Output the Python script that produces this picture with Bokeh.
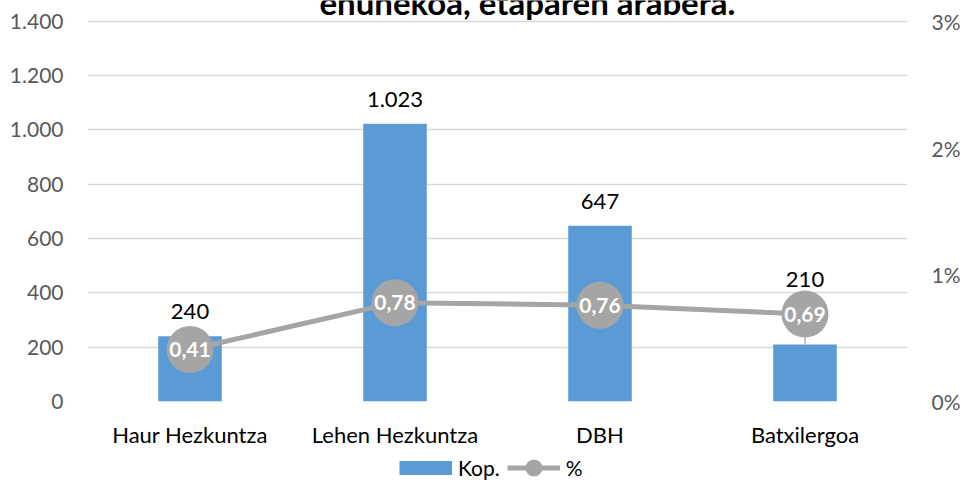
from bokeh.plotting import figure
from bokeh.layouts import column
from bokeh.models import (ColumnDataSource, FactorRange, Range1d, LinearAxis,
                          FixedTicker, Legend, LegendItem, Label)
from bokeh.core.properties import value
from bokeh.embed import file_html
from bokeh.resources import INLINE

# ---- data ----
categories = ["Haur Hezkuntza", "Lehen Hezkuntza", "DBH", "Batxilergoa"]
kop = [240, 1023, 647, 210]
pct = [0.41, 0.78, 0.76, 0.69]
kop_labels = ["240", "1.023", "647", "210"]
pct_labels = ["0,41", "0,78", "0,76", "0,69"]
left_ticks = [0, 200, 400, 600, 800, 1000, 1200, 1400]
left_tick_labels = ["0", "200", "400", "600", "800", "1.000", "1.200", "1.400"]
right_ticks = [0, 1, 2, 3]
right_tick_labels = ["0%", "1%", "2%", "3%"]
title_text = "ehunekoa, etaparen arabera."
leader_categories = ["Batxilergoa"]
series_names = ["Kop.", "%"]

# ---- style ----
FONT = "Lato"
BAR_COLOR = "#5B9BD5"
LINE_COLOR = "#A5A5A5"
GRID_COLOR = "#D9D9D9"
TICK_COLOR = "#595959"
W = 963
MAIN_H = 450
LEG_H = 30
TOP_PAD = 21                            # px above the 1.400 gridline (title area)
PLOT_H = 382                            # px between 0 and 1.400
LEFT_MAX = left_ticks[-1]
PCT_MAX = right_ticks[-1]
PPL = PLOT_H / LEFT_MAX                 # px per left-axis unit
PPP = PLOT_H / PCT_MAX                  # px per percent unit
EXT = 1 + TOP_PAD / PLOT_H              # range extension so the title sits inside the frame
MARKER = 47

p = figure(x_range=FactorRange(factors=categories),
           y_range=Range1d(0, LEFT_MAX * EXT),
           width=W, height=MAIN_H, output_backend="svg", toolbar_location=None,
           min_border_left=87, min_border_right=56, min_border_top=0,
           min_border_bottom=MAIN_H - TOP_PAD - PLOT_H)
p.extra_y_ranges = {"pct": Range1d(0, PCT_MAX * EXT)}
p.outline_line_color = None
p.background_fill_color = "white"
p.border_fill_color = "white"

# grid
p.xgrid.visible = False
p.ygrid.ticker = FixedTicker(ticks=left_ticks)
p.ygrid.grid_line_color = GRID_COLOR
p.ygrid.grid_line_width = 1.5

def style_axis(ax, size, color, standoff):
    ax.axis_line_color = None
    ax.major_tick_line_color = None
    ax.minor_tick_line_color = None
    ax.major_tick_out = 0
    ax.major_tick_in = 0
    ax.major_label_standoff = standoff
    ax.major_label_text_font = FONT
    ax.major_label_text_font_size = size
    ax.major_label_text_color = color

# left axis
ya = p.yaxis[0]
ya.ticker = FixedTicker(ticks=left_ticks)
ya.major_label_overrides = {t: l for t, l in zip(left_ticks, left_tick_labels)}
style_axis(ya, "21px", TICK_COLOR, 24)

# right axis
ra = LinearAxis(y_range_name="pct", ticker=FixedTicker(ticks=right_ticks))
ra.major_label_overrides = {t: l for t, l in zip(right_ticks, right_tick_labels)}
style_axis(ra, "21px", TICK_COLOR, 24)
p.add_layout(ra, "right")

# x axis
style_axis(p.xaxis[0], "22px", "black", 19)

# bar label placement: above the bar, or above the marker if the marker covers it
label_y = []
for k, q in zip(kop, pct):
    base_px = k * PPL + 17.5
    marker_top_px = q * PPP + MARKER / 2
    if marker_top_px > base_px:
        base_px = marker_top_px + 4
    label_y.append(base_px / PPL)

src = ColumnDataSource(dict(cat=categories, kop=kop, pct=pct, kop_label=kop_labels,
                            pct_label=pct_labels, label_y=label_y))

p.vbar(x="cat", top="kop", width=0.31, source=src, fill_color=BAR_COLOR, line_color=None)

# leader lines
lead = ColumnDataSource(dict(
    cat=[c for c in categories if c in leader_categories],
    y0=[k * PCT_MAX / LEFT_MAX for c, k in zip(categories, kop) if c in leader_categories],
    y1=[q for c, q in zip(categories, pct) if c in leader_categories]))
p.segment(x0="cat", y0="y0", x1="cat", y1="y1", source=lead, y_range_name="pct",
          line_color=LINE_COLOR, line_width=1.2)

p.line(x="cat", y="pct", source=src, y_range_name="pct",
       line_color=LINE_COLOR, line_width=5)
p.scatter(x="cat", y="pct", source=src, y_range_name="pct", size=MARKER,
          fill_color=LINE_COLOR, line_color=None)

p.text(x="cat", y="pct", text="pct_label", source=src, y_range_name="pct",
       text_align="center", text_baseline="middle", text_color="white",
       text_font=value(FONT), text_font_style="bold", text_font_size="21px")

p.text(x="cat", y="label_y", text="kop_label", source=src, y_offset=-7,
       text_align="center", text_baseline="alphabetic", text_color="black",
       text_font=value(FONT), text_font_size="22px")

# title (top part cut off like the reference)
p.add_layout(Label(x=2.146, y=LEFT_MAX, y_offset=19, text=title_text,
                   text_align="center", text_baseline="alphabetic",
                   text_font=FONT, text_font_style="bold", text_font_size="33px",
                   text_color="black"))

# ---- legend strip ----
lf = figure(width=W, height=LEG_H, x_range=Range1d(0, 1), y_range=Range1d(0, 1),
            output_backend="svg", toolbar_location=None,
            min_border_left=0, min_border_right=0, min_border_top=0, min_border_bottom=0)
lf.axis.visible = False
lf.grid.visible = False
lf.outline_line_color = None
lf.background_fill_color = "white"
lf.border_fill_color = "white"
nan = float("nan")
sw_kop = lf.line(x=[nan], y=[nan], line_color=BAR_COLOR, line_width=14, line_cap="butt")
sw_line = lf.line(x=[nan], y=[nan], line_color=LINE_COLOR, line_width=5)
sw_mark = lf.scatter(x=[nan], y=[nan], size=MARKER, fill_color=LINE_COLOR, line_color=None)
legend = Legend(items=[LegendItem(label=series_names[0], renderers=[sw_kop]),
                       LegendItem(label=series_names[1], renderers=[sw_line, sw_mark])],
                orientation="horizontal", location=(312, -8.5),
                glyph_width=53, glyph_height=43, label_standoff=6, spacing=7,
                padding=0, margin=0, background_fill_alpha=0, border_line_alpha=0,
                label_text_font=FONT, label_text_font_size="21px",
                label_text_color="black")
lf.add_layout(legend)

layout = column(p, lf, spacing=0)
open("out.html", "w").write(file_html(layout, INLINE))
